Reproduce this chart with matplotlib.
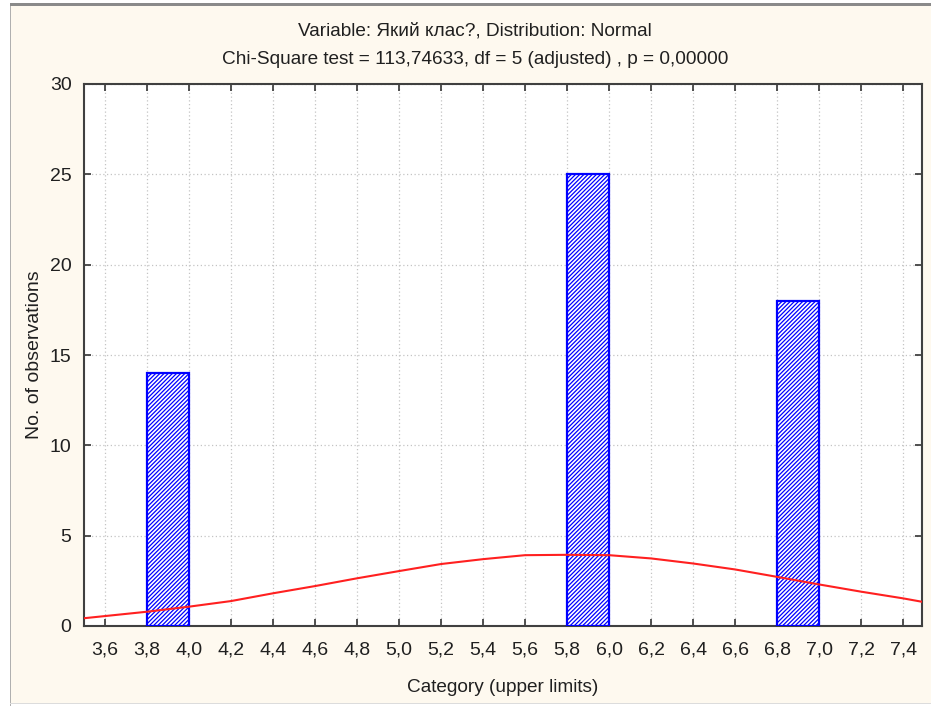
import matplotlib
matplotlib.use("Agg")
import matplotlib.pyplot as plt
from matplotlib.patches import Rectangle
from matplotlib.ticker import FuncFormatter

# observed frequencies (upper limit of each 0.2-wide category)
bin_upper = [4.0, 6.0, 7.0]
counts = [14, 25, 18]
bin_width = 0.2

# expected normal curve
curve_x = [3.5, 3.6, 3.8, 4.0, 4.2, 4.4, 4.6, 4.8, 5.0, 5.2, 5.4, 5.6,
           5.8, 6.0, 6.2, 6.4, 6.6, 6.8, 7.0, 7.2, 7.4, 7.5]
curve_y = [0.43, 0.55, 0.79, 1.07, 1.38, 1.81, 2.21, 2.64, 3.04, 3.43, 3.70, 3.92,
           3.94, 3.92, 3.74, 3.46, 3.13, 2.72, 2.30, 1.90, 1.53, 1.32]

x_ticks = [3.6, 3.8, 4.0, 4.2, 4.4, 4.6, 4.8, 5.0, 5.2, 5.4, 5.6,
           5.8, 6.0, 6.2, 6.4, 6.6, 6.8, 7.0, 7.2, 7.4]
y_ticks = [0, 5, 10, 15, 20, 25, 30]

title1 = "Variable: Який клас?, Distribution: Normal"
title2 = "Chi-Square test = 113,74633, df = 5 (adjusted) , p = 0,00000"

plt.rcParams['font.family'] = ['Liberation Sans', 'DejaVu Sans']
plt.rcParams['hatch.linewidth'] = 0.9
plt.rcParams['hatch.color'] = '#2020ff'

text_color = '#202020'
bg = '#fef9ef'

fig = plt.figure(figsize=(9.31, 7.06), dpi=100)
fig.patch.set_facecolor('white')

# window-like frame
fig.patches.append(Rectangle((11 / 931, 3 / 706), 920 / 931, 697 / 706,
                             transform=fig.transFigure, facecolor=bg,
                             edgecolor='none', zorder=-10))
fig.patches.append(Rectangle((10 / 931, 0), 1.2 / 931, 702 / 706,
                             transform=fig.transFigure, facecolor='#b0b0b0',
                             edgecolor='none', zorder=-9))
fig.patches.append(Rectangle((10 / 931, 700 / 706), 921 / 931, 3 / 706,
                             transform=fig.transFigure, facecolor='#8a8a8a',
                             edgecolor='none', zorder=-9))
fig.patches.append(Rectangle((10 / 931, 2 / 706), 921 / 931, 1.5 / 706,
                             transform=fig.transFigure, facecolor='#dcdcdc',
                             edgecolor='none', zorder=-9))

ax = fig.add_axes([84 / 931, 80 / 706, 838 / 931, 542 / 706])
ax.set_facecolor('white')

ax.bar([u - bin_width for u in bin_upper], counts, width=bin_width, align='edge',
       facecolor='white', edgecolor='#0000ff', linewidth=1.6, hatch='////////',
       zorder=3)
ax.plot(curve_x, curve_y, color='#ff2020', linewidth=1.5, zorder=4)

ax.set_xlim(3.5, 7.49)
ax.set_ylim(0, 30)
ax.set_xticks(x_ticks)
ax.set_yticks(y_ticks)
ax.xaxis.set_major_formatter(FuncFormatter(lambda v, p: f"{v:.1f}".replace('.', ',')))

ax.grid(True, color='#c4c4c4', linestyle=(0, (1, 2)), linewidth=0.9, zorder=0)
ax.tick_params(direction='in', length=5, width=1.2, color='#333333',
               top=True, right=True, labelsize=14, labelcolor=text_color)
ax.tick_params(axis='x', pad=11)
ax.tick_params(axis='y', pad=9)
for s in ax.spines.values():
    s.set_color('#404040')
    s.set_linewidth(1.5)

ax.set_xlabel("Category (upper limits)", fontsize=13.7, color=text_color, labelpad=15)
ax.set_ylabel("No. of observations", fontsize=14, color=text_color, labelpad=5)

fig.text(475 / 931, 1 - 31 / 706, title1, ha='center', va='center',
         fontsize=13.7, color=text_color)
fig.text(475 / 931, 1 - 60 / 706, title2, ha='center', va='center',
         fontsize=13.7, color=text_color)

fig.savefig("out.png", dpi=100, facecolor=fig.get_facecolor())
